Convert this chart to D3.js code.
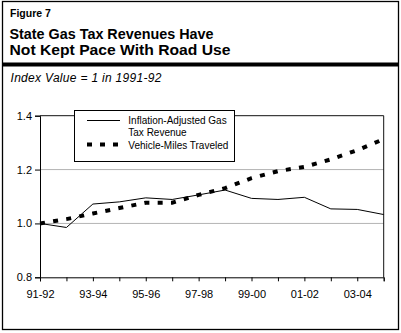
<!DOCTYPE html>
<html lang="en">
<head>
<meta charset="UTF-8">
<title>Figure 7</title>
<script src="https://d3js.org/d3.v7.min.js"></script>
<style>
	body{margin:0;background:#fff}
	svg{display:block;font-family:"Liberation Sans",Arial,Helvetica,sans-serif}
</style>
</head>
<body>
<svg id="chart" width="401" height="333"></svg>
<script>
	// fiscal years, one point per year
	var years = ["91-92","92-93","93-94","94-95","95-96","96-97","97-98","98-99","99-00","00-01","01-02","02-03","03-04","04-05"]
	var gasTax = [1.000,0.985,1.072,1.080,1.095,1.089,1.106,1.124,1.093,1.089,1.097,1.054,1.052,1.033]
	var vmt = [1.000,1.016,1.037,1.057,1.077,1.077,1.106,1.131,1.168,1.194,1.210,1.238,1.272,1.313]
	var yTicks = [0.8,1.0,1.2,1.4]
	var legendLabels = [["Inflation-Adjusted Gas","Tax Revenue"],["Vehicle-Miles Traveled"]]

	var svg = d3.select("#chart")

	// outer frame + header
	svg.append("rect").attr("x",2.5).attr("y",1.5).attr("width",396).attr("height",328)
		.attr("fill","none").attr("stroke","#000").attr("stroke-width",1.3)
	svg.append("text").attr("x",10).attr("y",17).attr("font-size",10.5).attr("font-weight","bold").text("Figure 7")
	svg.append("text").attr("x",9.5).attr("y",39).attr("font-size",15).attr("font-weight","bold")
		.attr("textLength",204).attr("lengthAdjust","spacingAndGlyphs").text("State Gas Tax Revenues Have")
	svg.append("text").attr("x",9.5).attr("y",55).attr("font-size",15).attr("font-weight","bold")
		.attr("textLength",221).attr("lengthAdjust","spacingAndGlyphs").text("Not Kept Pace With Road Use")
	svg.append("line").attr("x1",2).attr("x2",399).attr("y1",64.5).attr("y2",64.5).attr("stroke","#000").attr("stroke-width",4)
	svg.append("text").attr("x",10.5).attr("y",82).attr("font-size",12).attr("font-style","italic")
		.attr("textLength",151).text("Index Value = 1 in 1991-92")

	var x = d3.scalePoint().domain(years).range([40,383.7])
	var y = d3.scaleLinear().domain([0.8,1.4]).range([277.3,115.7])

	// grid
	svg.selectAll(".grid").data([1.0,1.2]).enter().append("line")
		.attr("x1",40).attr("x2",383.7).attr("y1",d=>y(d)).attr("y2",d=>y(d))
		.attr("stroke","#b4b4b4").attr("stroke-width",1)

	// plot frame top + right
	svg.append("path").attr("d","M40,"+y(1.4)+"H383.7V"+y(0.8)).attr("fill","none").attr("stroke","#111").attr("stroke-width",1)

	var yAxis = svg.append("g").attr("transform","translate(40,0)")
		.call(d3.axisLeft(y).tickValues(yTicks).tickFormat(d3.format(".1f")).tickSize(5).tickPadding(3))
	var xAxis = svg.append("g").attr("transform","translate(0,"+y(0.8)+")")
		.call(d3.axisBottom(x).tickSize(4).tickPadding(9).tickFormat((d,i)=> i%2==0 ? d : ""))
	svg.selectAll(".domain").attr("stroke","#000")
	svg.selectAll(".tick line").attr("stroke","#000")
	svg.selectAll(".tick text").attr("font-size",11).attr("font-family","'Liberation Sans',Arial,sans-serif").attr("fill","#000")

	var line = d3.line().x((d,i)=>x(years[i])).y(d=>y(d))

	svg.append("path").datum(gasTax).attr("d",line).attr("fill","none").attr("stroke","#000").attr("stroke-width",1)
	svg.append("path").datum(vmt).attr("d",line).attr("fill","none").attr("stroke","#000")
		.attr("stroke-width",4).attr("stroke-dasharray","5,8.3")

	// legend
	var lg = svg.append("g")
	lg.append("rect").attr("x",74.5).attr("y",110.5).attr("width",160).attr("height",51)
		.attr("fill","#fff").attr("stroke","#000").attr("stroke-width",1)
	lg.append("line").attr("x1",87).attr("x2",120).attr("y1",120.5).attr("y2",120.5).attr("stroke","#000").attr("stroke-width",1)
	lg.append("line").attr("x1",87).attr("x2",122).attr("y1",144.5).attr("y2",144.5).attr("stroke","#000")
		.attr("stroke-width",4).attr("stroke-dasharray","5,8")
	lg.append("text").attr("x",128.3).attr("y",124).attr("font-size",10).text(legendLabels[0][0])
	lg.append("text").attr("x",128.3).attr("y",135.5).attr("font-size",10).text(legendLabels[0][1])
	lg.append("text").attr("x",128.3).attr("y",148.5).attr("font-size",10).text(legendLabels[1][0])
</script>
</body>
</html>
